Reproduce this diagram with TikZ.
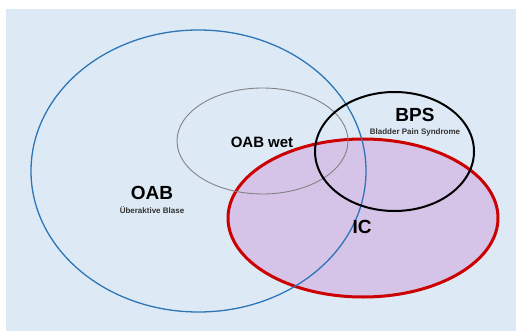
\documentclass[tikz,border=0pt]{standalone}
\usepackage{fontspec}
\setmainfont{Liberation Sans}
\usetikzlibrary{shapes.geometric}
\definecolor{bgblue}{RGB}{221,234,246}
\definecolor{oabblue}{RGB}{46,117,182}
\definecolor{wetgray}{RGB}{130,130,130}
\definecolor{icred}{RGB}{204,0,0}
\definecolor{iclilac}{RGB}{213,195,232}
\definecolor{subgray}{RGB}{50,50,50}

\begin{document}
\begin{tikzpicture}[x=1pt,y=-1pt,
    set/.style={ellipse,inner sep=0pt},
    bigname/.style={font=\bfseries\fontsize{19}{19}\selectfont},
    subname/.style={text=subgray,font=\bfseries\fontsize{8}{9}\selectfont}]
    \useasboundingbox (0,0) rectangle (516,331);
    \fill[bgblue] (6,9) rectangle (516,331);
    \node[set,draw=icred,line width=3pt,fill=iclilac,minimum width=270pt,minimum height=158pt] (ic) at (363,218) {};
    \node[set,draw=oabblue,line width=1.3pt,minimum width=335pt,minimum height=282pt] (oab) at (198.5,171) {};
    \node[set,draw=wetgray,line width=0.9pt,minimum width=171pt,minimum height=106pt] (oabwet) at (262.5,141) {};
    \node[set,draw=black,line width=2pt,minimum width=159pt,minimum height=119pt] (bps) at (394.5,151.5) {};
    \node[bigname] (oabname) at (152,193) {OAB};
    \node[subname] (oabsub) at (152,210) {Überaktive Blase};
    \node[font=\bfseries\fontsize{15}{15}\selectfont] (wetname) at (262,142) {OAB wet};
    \node[bigname] (bpsname) at (415,115) {BPS};
    \node[subname] (bpssub) at (415,132) {Bladder Pain Syndrome};
    \node[bigname] (icname) at (362,227) {IC};
\end{tikzpicture}
\end{document}
